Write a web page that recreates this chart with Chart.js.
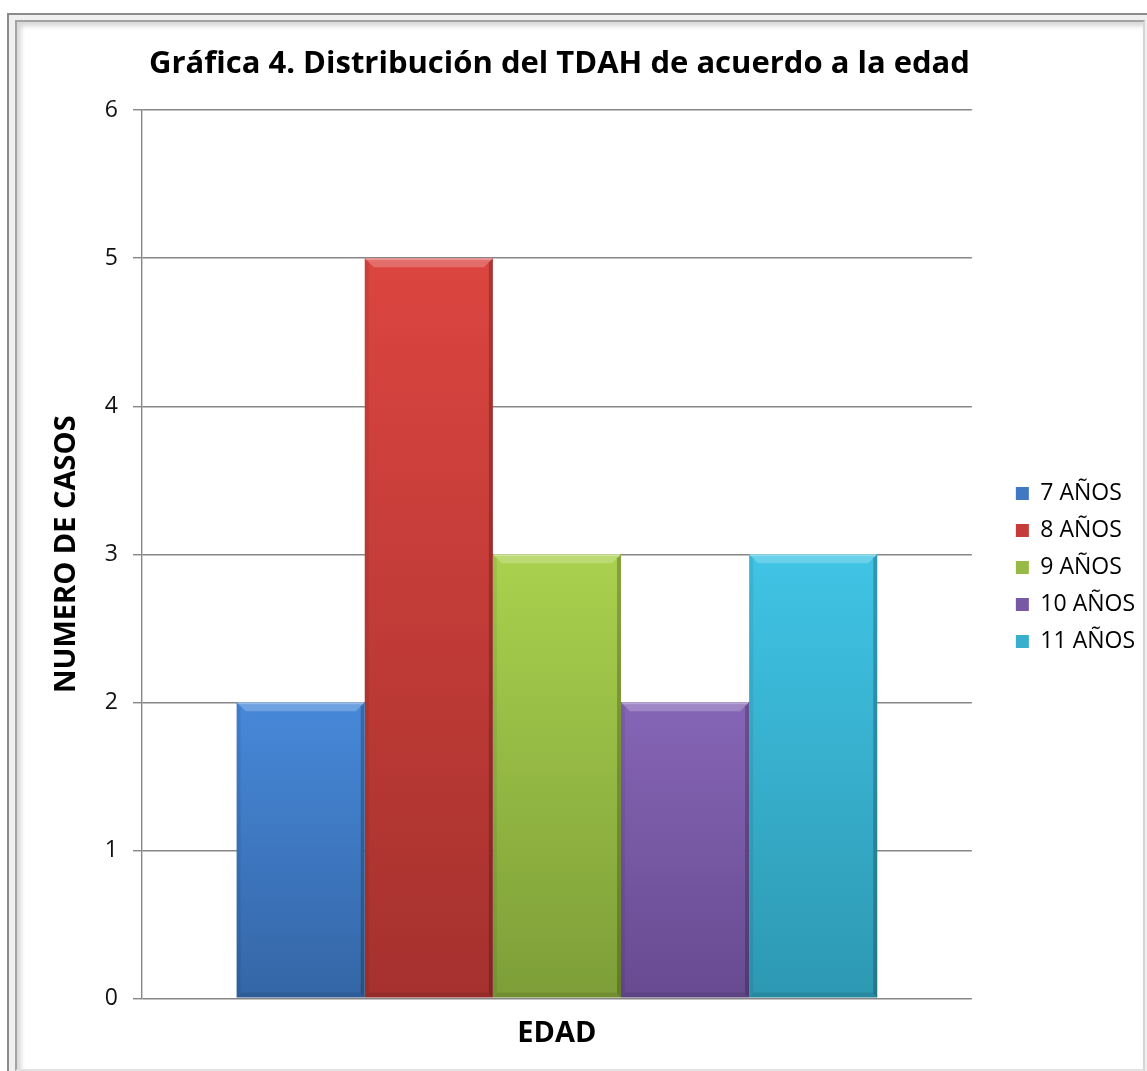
<!DOCTYPE html>
<html>
<head>
<meta charset="utf-8">
<script src="https://cdn.jsdelivr.net/npm/chart.js@4"></script>
<style>
  html, body { margin: 0; padding: 0; background: #fff; width: 1147px; height: 1071px; overflow: hidden; }
  .frame-outer {
    position: absolute; left: 7px; top: 13px; width: 1160px; height: 1080px;
    border-left: 2px solid #8a8a8a; border-top: 2px solid #8a8a8a; background: #efefef;
  }
  .frame-inner {
    position: absolute; left: 15px; top: 20px; width: 1126px; height: 1047px; background: #fff;
    border-left: 2px solid #a3a3a3; border-top: 2px solid #a3a3a3;
    border-right: 2px solid #d6d6d6; border-bottom: 2px solid #e2e2e2;
    box-shadow: inset 4px 4px 5px rgba(0,0,0,0.16);
  }
  #wrap { position: absolute; left: 0; top: 0; width: 1147px; height: 1071px; }
</style>
</head>
<body>
<div class="frame-outer"></div>
<div class="frame-inner"></div>
<div id="wrap"><canvas id="chart" width="1147" height="1071"></canvas></div>
<script>
// Data
const categories = ['EDAD'];
const seriesLabels = ['7 AÑOS', '8 AÑOS', '9 AÑOS', '10 AÑOS', '11 AÑOS'];
const seriesValues = [[2], [5], [3], [2], [3]];
const yTickValues = [0, 1, 2, 3, 4, 5, 6];

// Bar shading: lighter at the top, darker at the base
const topColors = ['#4788d9', '#dc4540', '#aad14e', '#8565b6', '#40c4e5'];
const baseColors = ['#3466a6', '#a5312e', '#7d9e38', '#674a90', '#2d98b2'];
const keyColors = ['#3f79c4', '#c43b37', '#96ba45', '#7658a5', '#37afcd'];

const FONT = '"Open Sans", "DejaVu Sans", sans-serif';

function barGradient(i) {
  return function (ctx) {
    const chart = ctx.chart;
    const ys = chart.scales.y;
    if (!ys || ctx.raw == null) return keyColors[i];
    const top = ys.getPixelForValue(ctx.raw);
    const bot = ys.getPixelForValue(0);
    if (!isFinite(top) || !isFinite(bot) || top === bot) return keyColors[i];
    const g = chart.ctx.createLinearGradient(0, top, 0, bot);
    g.addColorStop(0, topColors[i]);
    g.addColorStop(1, baseColors[i]);
    return g;
  };
}

// Bevelled edges drawn over each bar
const bevelPlugin = {
  id: 'bevel',
  afterDatasetsDraw(chart) {
    const ctx = chart.ctx;
    chart.data.datasets.forEach((ds, di) => {
      const meta = chart.getDatasetMeta(di);
      meta.data.forEach(el => {
        const p = el.getProps(['x', 'y', 'base', 'width'], true);
        const L = p.x - p.width / 2, R = p.x + p.width / 2, T = p.y, B = p.base;
        const b = 9;
        ctx.save();
        // top highlight
        ctx.beginPath();
        ctx.moveTo(L, T); ctx.lineTo(R, T); ctx.lineTo(R - b, T + b); ctx.lineTo(L + b, T + b); ctx.closePath();
        ctx.fillStyle = 'rgba(255,255,255,0.22)';
        ctx.fill();
        // bright rim on top edge
        ctx.fillStyle = 'rgba(255,255,255,0.25)';
        ctx.fillRect(L + 1, T, p.width - 2, 2);
        // right shadow
        ctx.beginPath();
        ctx.moveTo(R, T); ctx.lineTo(R, B); ctx.lineTo(R - 4, B - 4); ctx.lineTo(R - 4, T + 4); ctx.closePath();
        ctx.fillStyle = 'rgba(0,0,0,0.22)';
        ctx.fill();
        // left soft edge
        ctx.beginPath();
        ctx.moveTo(L, T); ctx.lineTo(L + 4, T + 4); ctx.lineTo(L + 4, B - 4); ctx.lineTo(L, B); ctx.closePath();
        ctx.fillStyle = 'rgba(0,0,0,0.07)';
        ctx.fill();
        // bottom shade
        ctx.beginPath();
        ctx.moveTo(L, B); ctx.lineTo(R, B); ctx.lineTo(R - 5, B - 5); ctx.lineTo(L + 5, B - 5); ctx.closePath();
        ctx.fillStyle = 'rgba(0,0,0,0.10)';
        ctx.fill();
        ctx.restore();
      });
    });
  }
};

// Legend sits further right and lower than the default placement;
// the title is centred a little left of the canvas middle
const boxOffsets = {
  id: 'boxOffsets',
  afterLayout(chart) {
    const lg = chart.legend;
    if (lg) {
      lg.left += 30; lg.right += 30;
      lg.top += 33; lg.bottom += 33;
    }
    const tt = chart.titleBlock;
    if (tt) { tt.left -= 8; tt.right -= 8; }
  }
};

const datasets = seriesLabels.map((label, i) => ({
  label,
  data: seriesValues[i],
  backgroundColor: barGradient(i),
  borderWidth: 0,
  categoryPercentage: 0.772,
  barPercentage: 1.0
}));

new Chart(document.getElementById('chart'), {
  type: 'bar',
  data: { labels: categories, datasets },
  plugins: [bevelPlugin, boxOffsets],
  options: {
    responsive: false,
    animation: false,
    layout: { padding: { left: 20, right: 32, top: 0, bottom: 2 } },
    plugins: {
      tooltip: { enabled: false },
      title: {
        display: true,
        text: 'Gráfica 4. Distribución del TDAH de acuerdo a la edad',
        color: '#000',
        font: { family: FONT, size: 31, weight: 'bold' },
        padding: { top: 46, bottom: 27 }
      },
      legend: {
        position: 'right',
        labels: {
          color: '#000',
          font: { family: FONT, size: 23 },
          boxWidth: 13,
          boxHeight: 13,
          padding: 14,
          generateLabels(chart) {
            return chart.data.datasets.map((ds, i) => ({
              text: ds.label,
              fillStyle: keyColors[i],
              strokeStyle: 'rgba(0,0,0,0)',
              lineWidth: 0,
              hidden: false,
              datasetIndex: i
            }));
          }
        }
      }
    },
    scales: {
      x: {
        grid: { display: false, drawTicks: false },
        border: { display: false },
        ticks: { color: '#000', padding: 18, font: { family: FONT, size: 29, weight: 'bold' } }
      },
      y: {
        min: 0,
        max: 6,
        afterBuildTicks(scale) { scale.ticks = yTickValues.map(v => ({ value: v })); },
        afterFit(scale) { scale.width = 122; },
        grid: { color: '#868686', lineWidth: 1.4, tickLength: 9, drawTicks: true },
        border: { display: true, color: '#868686', width: 1.4 },
        ticks: { color: '#111', padding: 15, font: { family: FONT, size: 23 } },
        title: {
          display: true,
          text: 'NUMERO DE CASOS',
          color: '#000',
          font: { family: FONT, size: 29, weight: 'bold' },
          padding: { top: 29, bottom: 0 }
        }
      }
    }
  }
});
</script>
</body>
</html>
